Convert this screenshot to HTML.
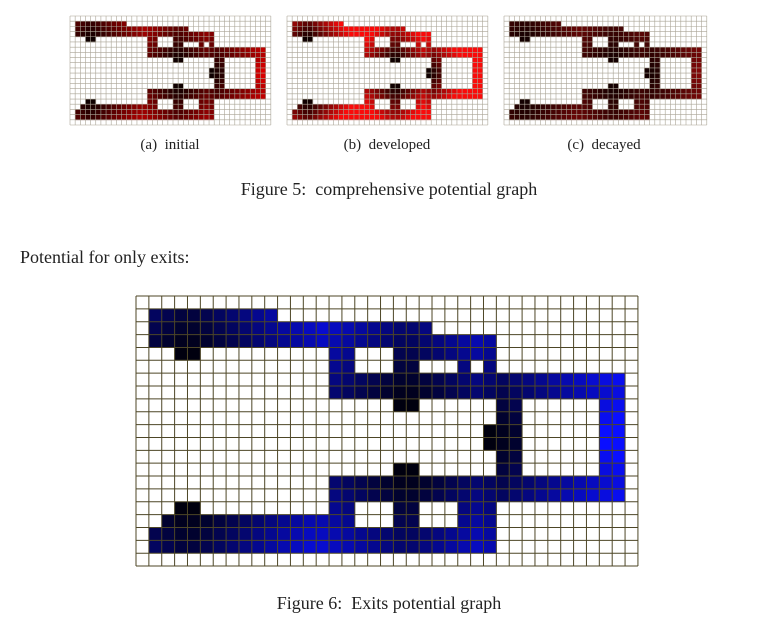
<!DOCTYPE html>
<html><head><meta charset="utf-8">
<style>
body{margin:0;width:778px;height:625px;background:#fff;position:relative;overflow:hidden;font-family:"Liberation Serif",serif;color:#222}
svg{position:absolute;left:0;top:0}
.t{position:absolute;white-space:nowrap}
</style></head><body>
<svg id="s" width="778" height="625" xmlns="http://www.w3.org/2000/svg"></svg>
<div class="t" style="left:0;width:340px;text-align:center;top:137px;font-size:15px">(a)&nbsp; initial</div>
<div class="t" style="left:217px;width:340px;text-align:center;top:137px;font-size:15px">(b)&nbsp; developed</div>
<div class="t" style="left:434px;width:340px;text-align:center;top:137px;font-size:15px">(c)&nbsp; decayed</div>
<div class="t" style="left:0;width:778px;text-align:center;top:179px;font-size:18px">Figure 5:&nbsp; comprehensive potential graph</div>
<div class="t" style="left:20px;top:247px;font-size:18px">Potential for only exits:</div>
<div class="t" style="left:0;width:778px;text-align:center;top:593px;font-size:18px">Figure 6:&nbsp; Exits potential graph</div>
<script>
var R={1:[[1,10]],2:[[1,22]],3:[[1,27]],4:[[3,4],[15,16],[20,27]],5:[[15,16],[20,21],[25,25],[27,27]],
6:[[15,37]],7:[[15,37]],8:[[20,21],[28,29],[36,37]],9:[[28,29],[36,37]],10:[[27,29],[36,37]],11:[[27,29],[36,37]],
12:[[28,29],[36,37]],13:[[20,21],[28,29],[36,37]],14:[[15,37]],15:[[15,37]],16:[[3,4],[15,16],[20,21],[25,27]],
17:[[2,16],[20,21],[25,27]],18:[[1,27]],19:[[1,27]]};
var C=39,RW=21,M=[],D=[];
for(var r=0;r<RW;r++){M[r]=[];D[r]=[];for(var c=0;c<C;c++){M[r][c]=0;D[r][c]=-1;}}
for(var k in R){R[k].forEach(function(a){for(var c=a[0];c<=a[1];c++)M[k][c]=1;});}
var ex=[[4,3],[4,4],[8,20],[8,21],[10,27],[11,27],[13,20],[13,21],[16,3],[16,4]],q=[];
ex.forEach(function(e){D[e[0]][e[1]]=0;q.push(e);});
while(q.length){var p=q.shift();[[1,0],[-1,0],[0,1],[0,-1]].forEach(function(d){var a=p[0]+d[0],b=p[1]+d[1];
if(a>=0&&a<RW&&b>=0&&b<C&&M[a][b]&&D[a][b]<0){D[a][b]=D[p[0]][p[1]]+1;q.push([a,b]);}});}
var s=document.getElementById('s'),h='';
function grid(x0,y0,cw,ch,col,line,lw){
 for(var r=0;r<RW;r++)for(var c=0;c<C;c++){if(M[r][c]){h+='<rect x="'+(x0+c*cw)+'" y="'+(y0+r*ch)+'" width="'+(cw+0.3)+'" height="'+(ch+0.3)+'" fill="'+col(D[r][c])+'"/>';}}
 for(var c=0;c<=C;c++){var x=x0+c*cw;h+='<line x1="'+x+'" y1="'+y0+'" x2="'+x+'" y2="'+(y0+RW*ch)+'" stroke="'+line+'" stroke-width="'+lw+'"/>';}
 for(var r=0;r<=RW;r++){var y=y0+r*ch;h+='<line x1="'+x0+'" y1="'+y+'" x2="'+(x0+C*cw)+'" y2="'+y+'" stroke="'+line+'" stroke-width="'+lw+'"/>';}
}
function f(d,m){return Math.min(1,d/m);}
grid(136,296,12.87,12.86,function(d){var v=f(d,15);return 'rgb('+Math.round(v*10)+','+Math.round(v*15)+','+Math.round(15+v*240)+')';},'#4d4626',1);
grid(70,16,5.15,5.19,function(d){var v=f(d,17);return 'rgb('+Math.round(15+v*215)+',0,0)';},'#aaa496',0.6);
grid(287,16,5.15,5.19,function(d){var v=f(d,9);return 'rgb('+Math.round(15+v*235)+','+Math.round(v*10)+','+Math.round(v*10)+')';},'#aaa496',0.6);
grid(504,16,5.2,5.19,function(d){var v=f(d,16);return 'rgb('+Math.round(20+v*110)+','+Math.round(v*8)+','+Math.round(v*8)+')';},'#aaa496',0.6);
s.innerHTML=h;
</script>
</body></html>
